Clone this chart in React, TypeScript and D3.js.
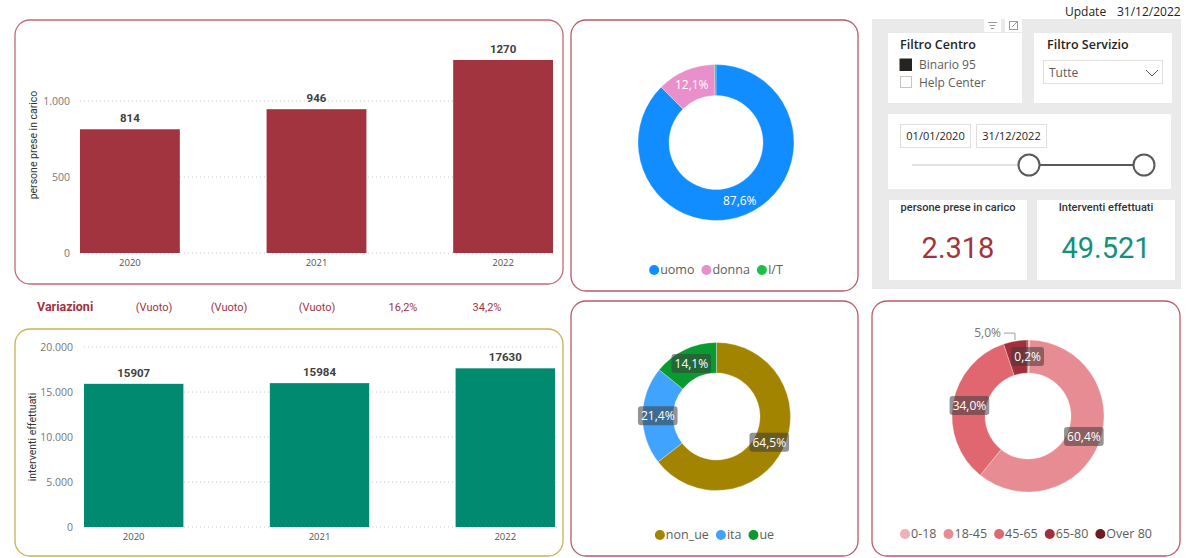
import React from 'react';
import * as d3 from 'd3';

// ---------- DATA ----------
const years = ['2020', '2021', '2022'];
const persone = [814, 946, 1270];
const interventi = [15907, 15984, 17630];
const personeTicks = [0, 500, 1000];
const interventiTicks = [0, 5000, 10000, 15000, 20000];
const variazioniLabels = ['(Vuoto)', '(Vuoto)', '(Vuoto)', '16,2%', '34,2%'];

const genderCats = ['uomo', 'donna', 'I/T'];
const genderVals = [87.6, 12.1, 0.3];
const genderColors = ['#118DFF', '#E98FCB', '#1DC045'];

const originCats = ['non_ue', 'ita', 'ue'];
const originVals = [64.5, 21.4, 14.1];
const originColors = ['#A38400', '#40A4FF', '#0A9A2F'];

const ageCats = ['0-18', '18-45', '45-65', '65-80', 'Over 80'];
const ageVals = [0.4, 60.4, 34.0, 5.0, 0.2];
const ageColors = ['#F0B0B6', '#E88C93', '#E0666F', '#A32F3C', '#6C1B25'];

const kpiPersone = 2318;
const kpiInterventi = 49521;
const updateDate = '31/12/2022';
const dateFrom = '01/01/2020';
const dateTo = '31/12/2022';

// ---------- STYLE ----------
const SEGOE = "'Segoe UI', 'Open Sans', sans-serif";
const DIN = "Roboto, 'DejaVu Sans Condensed', sans-serif";
const RED = '#A1343F';
const GREEN = '#008A70';

const itLocale = d3.formatLocale({ decimal: ',', thousands: '.', grouping: [3], currency: ['€', ''] });
const fmtInt = itLocale.format(',d');
const fmtPct = (v: number) => v.toFixed(1).replace('.', ',') + '%';

let ctx: CanvasRenderingContext2D | null = null;
function measure(text: string, font: string) {
  if (!ctx) ctx = document.createElement('canvas').getContext('2d');
  if (!ctx) return text.length * 7;
  ctx.font = font;
  return ctx.measureText(text).width;
}

function Panel({ x, y, w, h, stroke }: any) {
  return <rect x={x} y={y} width={w} height={h} rx={15} ry={15} fill="#fff" stroke={stroke} strokeWidth={1.3} />;
}

function BarChart({ values, ticks, color, yRange, domain, xRange, tickRight, title, titleX, titleY }: any) {
  const x = d3.scaleBand().domain(years).range(xRange).paddingInner(0.465).paddingOuter(0);
  const y = d3.scaleLinear().domain(domain).range(yRange);
  const gridX0 = xRange[0];
  const gridX1 = xRange[1] + 2;
  return (
    <g>
      {ticks.map((t: number) => (
        <g key={t}>
          <line x1={gridX0} x2={gridX1} y1={y(t)} y2={y(t)} stroke="#C8C8C8" strokeDasharray="1,3" />
          <text x={tickRight} y={y(t)} dy="0.35em" textAnchor="end" fontFamily={SEGOE} fontSize={10.5} fill="#777">
            {fmtInt(t)}
          </text>
        </g>
      ))}
      {values.map((v: number, i: number) => (
        <g key={years[i]}>
          <rect x={x(years[i])} y={y(v)} width={x.bandwidth()} height={y(0) - y(v)} fill={color} />
          <text x={(x(years[i]) as number) + x.bandwidth() / 2} y={y(v) - 7} textAnchor="middle" fontFamily={DIN} fontWeight="bold" fontSize={11.5} fill="#404040">
            {v}
          </text>
          <text x={(x(years[i]) as number) + x.bandwidth() / 2} y={y(0) + 10} dy="0.35em" textAnchor="middle" fontFamily={SEGOE} fontSize={9.5} fill="#555">
            {years[i]}
          </text>
        </g>
      ))}
      <text transform={`translate(${titleX},${titleY}) rotate(-90)`} textAnchor="middle" dy="0.35em" fontFamily={DIN} fontSize={10.5} fill="#333">
        {title}
      </text>
    </g>
  );
}

function Legend({ cats, colors, cx, cy }: any) {
  const font = `12.5px ${SEGOE}`;
  const items: any[] = [];
  let pos = 0;
  cats.forEach((c: string, i: number) => {
    const tw = measure(c, font);
    items.push({ c, color: colors[i], dot: pos + 5, tx: pos + 11, tw });
    pos += 11 + tw + 7;
  });
  const total = pos - 7;
  const off = cx - total / 2;
  return (
    <g>
      {items.map((it) => (
        <g key={it.c}>
          <circle cx={off + it.dot} cy={cy} r={5} fill={it.color} />
          <text x={off + it.tx} y={cy} dy="0.35em" fontFamily={SEGOE} fontSize={12.5} fill="#605E5C">
            {it.c}
          </text>
        </g>
      ))}
    </g>
  );
}

function Donut({ cats, vals, colors, cx, cy, outer, inner, boxed, hide, outside }: any) {
  const pie = d3.pie<number>().sort(null).value((d) => d);
  const arcs = pie(vals);
  const arc = d3.arc<d3.PieArcDatum<number>>().innerRadius(inner).outerRadius(outer);
  return (
    <g transform={`translate(${cx},${cy})`}>
      {arcs.map((a, i) => (
        <path key={cats[i]} d={arc(a) as string} fill={colors[i]} stroke="#fff" strokeWidth={0.3} />
      ))}
      {arcs.map((a, i) => {
        if (hide.includes(i)) return null;
        const lbl = fmtPct(vals[i]);
        if (outside.includes(i)) {
          const mid = (a.startAngle + a.endAngle) / 2;
          const px = Math.sin(mid) * (outer + 1);
          const py = -Math.cos(mid) * (outer + 1);
          const ly = py - 7;
          return (
            <g key={'l' + i}>
              <polyline points={`${px},${py} ${px},${ly} ${px - 11},${ly}`} fill="none" stroke="#A0A0A0" strokeWidth={1} />
              <text x={px - 14} y={ly} dy="0.35em" textAnchor="end" fontFamily={SEGOE} fontSize={12} fill="#777">
                {lbl}
              </text>
            </g>
          );
        }
        const [lx, ly] = arc.centroid(a);
        const tw = measure(lbl, `12px ${SEGOE}`);
        return (
          <g key={'l' + i}>
            {boxed && <rect x={lx - tw / 2 - 3} y={ly - 9.5} width={tw + 6} height={19} rx={3} fill="rgba(60,60,60,0.55)" />}
            <text x={lx} y={ly} dy="0.35em" textAnchor="middle" fontFamily={SEGOE} fontSize={12} fill="#fff">
              {lbl}
            </text>
          </g>
        );
      })}
    </g>
  );
}

export default function App() {
  return (
    <div style={{ position: 'absolute', left: 0, top: 0 }}>
      <svg width={1192} height={558} style={{ display: 'block' }}>
        <rect x={0} y={0} width={1192} height={558} fill="#fff" />

        {/* Bar chart 1 */}
        <Panel x={15} y={20} w={548} h={264} stroke="#C46A74" />
        <BarChart values={persone} ticks={personeTicks} color={RED} domain={[0, 1000]} yRange={[253, 101]} xRange={[80, 553]} tickRight={70} title="persone prese in carico" titleX={33} titleY={145} />

        {/* Variazioni */}
        <text x={37} y={307} dy="0.35em" fontFamily={DIN} fontWeight="bold" fontSize={12.5} fill={RED}>Variazioni</text>
        {variazioniLabels.map((l, i) => (
          <text key={i} x={[154, 229, 317, 403, 487][i]} y={307} dy="0.35em" textAnchor="middle" fontFamily={DIN} fontSize={11} fill={RED}>
            {l}
          </text>
        ))}

        {/* Bar chart 2 */}
        <Panel x={15} y={329} w={548} h={227} stroke="#C9B250" />
        <BarChart values={interventi} ticks={interventiTicks} color={GREEN} domain={[0, 20000]} yRange={[527, 347]} xRange={[84, 555]} tickRight={73} title="interventi effettuati" titleX={32} titleY={437} />

        {/* Donut 1 */}
        <Panel x={571} y={20} w={287} h={271} stroke="#BC5A65" />
        <Donut cats={genderCats} vals={genderVals} colors={genderColors} cx={716} cy={142.5} outer={78} inner={47} boxed={false} hide={[2]} outside={[]} />
        <Legend cats={genderCats} colors={genderColors} cx={716} cy={270} />

        {/* Donut 2 */}
        <Panel x={571} y={301} w={287} h={255} stroke="#BC5A65" />
        <Donut cats={originCats} vals={originVals} colors={originColors} cx={716.5} cy={416.5} outer={74} inner={43.5} boxed={true} hide={[]} outside={[]} />
        <Legend cats={originCats} colors={originColors} cx={714.5} cy={535} />

        {/* Donut 3 */}
        <Panel x={872} y={301} w={308} h={255} stroke="#BC5A65" />
        <Donut cats={ageCats} vals={ageVals} colors={ageColors} cx={1028} cy={416} outer={76} inner={43} boxed={true} hide={[0]} outside={[3]} />
        <Legend cats={ageCats} colors={ageColors} cx={1026} cy={534} />

        {/* Update */}
        <text x={1065} y={12} dy="0.35em" fontFamily={SEGOE} fontSize={12} fill="#252423">Update</text>
        <text x={1117} y={12} dy="0.35em" fontFamily={SEGOE} fontSize={12} fill="#252423">{updateDate}</text>

        {/* Gray filter area */}
        <rect x={872} y={19} width={309} height={270} fill="#EAEAEA" />
        <rect x={984} y={19} width={17} height={13} fill="#fff" />
        <rect x={1005} y={19} width={17} height={13} fill="#fff" />
        <g stroke="#9A9A9A" strokeWidth={1}>
          <line x1={988} x2={997} y1={22.5} y2={22.5} />
          <line x1={989.5} x2={995.5} y1={25.5} y2={25.5} />
          <line x1={991} x2={994} y1={28.5} y2={28.5} />
          <rect x={1009.5} y={21.5} width={8} height={8} fill="none" />
          <line x1={1012} x2={1017} y1={27} y2={22} />
        </g>

        {/* Filtro Centro */}
        <rect x={888} y={33} width={134} height={70} fill="#fff" />
        <text x={900} y={45} dy="0.35em" fontFamily={SEGOE} fontWeight={600} fontSize={12.5} fill="#252423">Filtro Centro</text>
        <rect x={900} y={59} width={11.5} height={11.5} fill="#252423" stroke="#252423" />
        <text x={919} y={65} dy="0.35em" fontFamily={SEGOE} fontSize={12} fill="#605E5C">Binario 95</text>
        <rect x={900.5} y={76.5} width={11} height={11} fill="#fff" stroke="#C8C6C4" />
        <text x={919} y={83} dy="0.35em" fontFamily={SEGOE} fontSize={12} fill="#605E5C">Help Center</text>

        {/* Filtro Servizio */}
        <rect x={1034} y={33} width={138} height={70} fill="#fff" />
        <text x={1047} y={45} dy="0.35em" fontFamily={SEGOE} fontWeight={600} fontSize={12.5} fill="#252423">Filtro Servizio</text>
        <rect x={1043.5} y={60.5} width={119} height={23} fill="#fff" stroke="#E1DFDD" />
        <text x={1049} y={73} dy="0.35em" fontFamily={SEGOE} fontSize={12} fill="#605E5C">Tutte</text>
        <polyline points="1146,70 1152,76 1158,70" fill="none" stroke="#605E5C" strokeWidth={1} />

        {/* Slider */}
        <rect x={888} y={114} width={283} height={75} fill="#fff" />
        <rect x={900.5} y={124.5} width={70} height={23} fill="#fff" stroke="#E1DFDD" />
        <text x={935.5} y={136} dy="0.35em" textAnchor="middle" fontFamily={SEGOE} fontSize={11} fill="#252423">{dateFrom}</text>
        <rect x={976.5} y={124.5} width={70} height={23} fill="#fff" stroke="#E1DFDD" />
        <text x={1011.5} y={136} dy="0.35em" textAnchor="middle" fontFamily={SEGOE} fontSize={11} fill="#252423">{dateTo}</text>
        <line x1={912} x2={1018} y1={165} y2={165} stroke="#E3E3E3" strokeWidth={2} />
        <line x1={1040} x2={1133} y1={165} y2={165} stroke="#5A5A5A" strokeWidth={2} />
        <circle cx={1029} cy={165} r={10.5} fill="#fff" stroke="#5A5A5A" strokeWidth={2} />
        <circle cx={1144} cy={165} r={10.5} fill="#fff" stroke="#5A5A5A" strokeWidth={2} />

        {/* KPI cards */}
        <rect x={889} y={200} width={138} height={80} fill="#fff" />
        <text x={958} y={207} dy="0.35em" textAnchor="middle" fontFamily={DIN} fontWeight={500} fontSize={11} fill="#333">persone prese in carico</text>
        <text x={958} y={248} dy="0.35em" textAnchor="middle" fontFamily={DIN} fontSize={29} fill={RED}>{fmtInt(kpiPersone)}</text>
        <rect x={1037} y={200} width={138} height={80} fill="#fff" />
        <text x={1106} y={207} dy="0.35em" textAnchor="middle" fontFamily={DIN} fontWeight={500} fontSize={11} fill="#333">Interventi effettuati</text>
        <text x={1106} y={248} dy="0.35em" textAnchor="middle" fontFamily={DIN} fontSize={29} fill="#16907A">{fmtInt(kpiInterventi)}</text>
      </svg>
    </div>
  );
}
